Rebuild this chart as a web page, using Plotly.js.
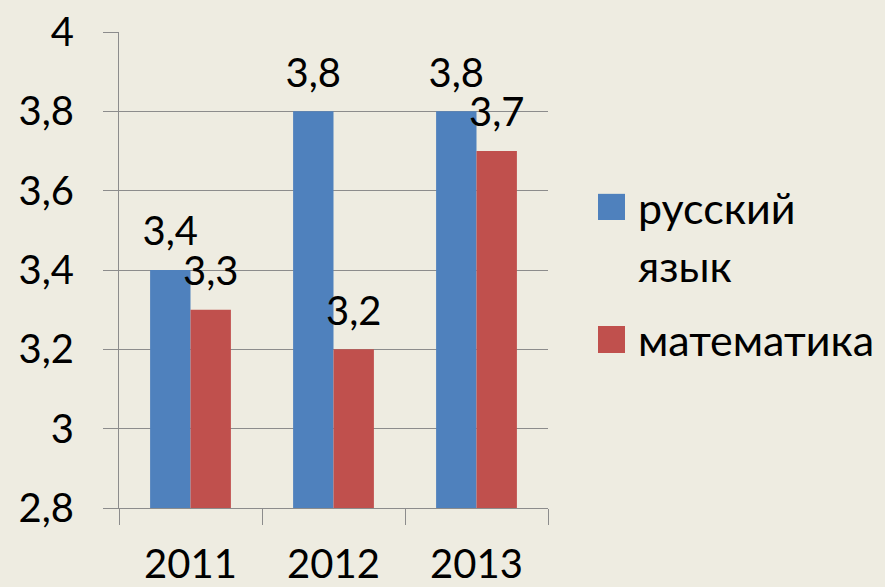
<!DOCTYPE html>
<html>
<head>
<meta charset="utf-8">
<script src="https://cdn.plot.ly/plotly-3.0.1.min.js"></script>
<style>html,body{margin:0;padding:0;background:#EEECE1;}#chart{width:885px;height:587px;}</style>
</head>
<body>
<div id="chart"></div>
<script>
const years = ['2011', '2012', '2013'];
const seriesNames = ['русский язык', 'математика'];
const russian = [3.4, 3.8, 3.8];
const math = [3.3, 3.2, 3.7];
const colors = ['#4F81BD', '#C0504D'];

const FONT = 'Lato, "Open Sans", sans-serif';
const FS = 40;
const grid = '#8C8C8C';
const fmt = v => String(v).replace('.', ',');

const values = [russian, math];
const bars = values.map((vals, i) => ({
  type: 'bar',
  name: seriesNames[i],
  x: years,
  y: vals,
  marker: {color: colors[i]},
  hoverinfo: 'x+y',
  showlegend: false
}));
// value labels: grouped text points sitting above each bar
const labels = values.map((vals, i) => ({
  type: 'scatter',
  mode: 'markers+text',
  name: seriesNames[i],
  x: years,
  y: vals,
  text: vals.map(fmt),
  textposition: 'top center',
  textfont: {family: FONT, size: FS, color: '#000'},
  marker: {size: 22, color: 'rgba(0,0,0,0)'},
  cliponaxis: false,
  hoverinfo: 'skip',
  showlegend: false
}));

// custom legend (large squares as in the reference)
const legendY = [[0.605, 0.66], [0.3256, 0.3824]];
const shapes = legendY.map((yy, i) => ({
  type: 'rect', xref: 'paper', yref: 'paper',
  x0: 1.1166, x1: 1.1795, y0: yy[0], y1: yy[1],
  fillcolor: colors[i], line: {width: 0}
}));
const nameLines = seriesNames.map(n => n.split(' '));
const annotations = [];
const lineBase = [[0.632, 0.51], [0.353]];
nameLines.forEach((lines, i) => {
  lines.forEach((ln, j) => {
    annotations.push({
      xref: 'paper', yref: 'paper', x: 1.205, y: lineBase[i][j],
      xanchor: 'left', yanchor: 'middle', showarrow: false,
      text: ln, font: {family: FONT, size: 43, color: '#000'}
    });
  });
});

const layout = {
  width: 885, height: 587,
  margin: {l: 119, r: 337, t: 32, b: 79, pad: 0},
  paper_bgcolor: '#EEECE1',
  plot_bgcolor: '#EEECE1',
  separators: ', ',
  barmode: 'group',
  bargap: 0.435,
  bargroupgap: 0,
  scattermode: 'group',
  scattergap: 0.435,
  font: {family: FONT, size: FS, color: '#000'},
  showlegend: false,
  xaxis: {
    type: 'category',
    showline: true, linecolor: grid, linewidth: 1,
    ticks: 'outside', tickson: 'boundaries', ticklen: 16, tickcolor: grid,
    showgrid: false,
    tickfont: {family: FONT, size: FS, color: '#000'},
    ticklabelstandoff: 21
  },
  yaxis: {
    range: [2.8, 4], tick0: 2.8, dtick: 0.2,
    showline: true, linecolor: grid, linewidth: 1,
    ticks: 'outside', ticklen: 15, tickcolor: grid,
    showgrid: true, gridcolor: grid, gridwidth: 1,
    zeroline: false,
    tickfont: {family: FONT, size: FS, color: '#000'},
    ticklabelstandoff: 21
  },
  shapes: shapes,
  annotations: annotations
};

Plotly.newPlot('chart', bars.concat(labels), layout, {displayModeBar: false, staticPlot: true});
</script>
</body>
</html>
